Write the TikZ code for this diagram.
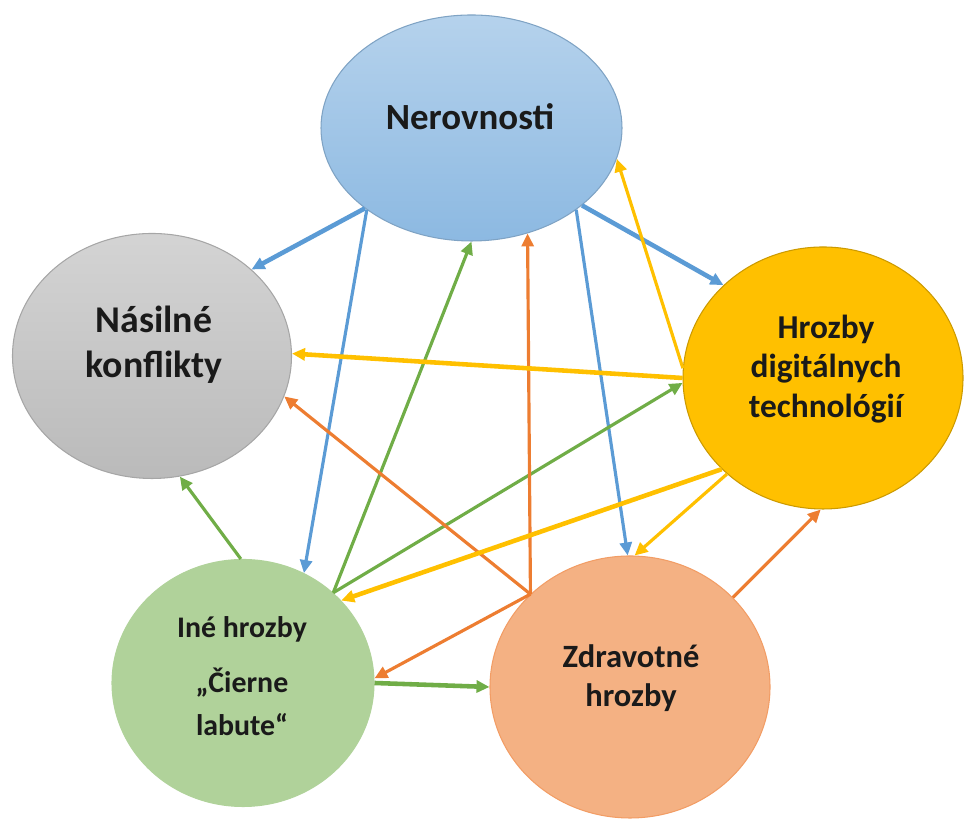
\documentclass[tikz,border=0pt]{standalone}
\usepackage{fontspec}
\setmainfont{Carlito}
\usepackage{tikz}
\usetikzlibrary{arrows.meta, shapes.geometric}
\definecolor{blueA}{HTML}{5B9BD5}
\definecolor{orangeA}{HTML}{ED7D31}
\definecolor{greenA}{HTML}{70AD47}
\definecolor{yellowA}{HTML}{FFC000}
\definecolor{txt}{HTML}{1A1A1A}

\begin{document}
\begin{tikzpicture}[
  blob/.style={ellipse, inner sep=0pt, line width=0.6pt},
  lbl/.style={align=center, text=txt, font=\bfseries},
  arr/.style={-{Triangle[length=2.6mm, width=2.4mm]}, line width=1.8pt},
  arrb/.style={arr, line width=2.6pt},
]
\useasboundingbox (0,0) rectangle (19.28,16.38);
% ---------------- the five threats
\node[blob, minimum width=6.02cm, minimum height=4.52cm, draw=blueA!80!black!70,
      top color=blueA!45!white, bottom color=blueA!70!white] (nerov) at (9.43,13.82) {};
\node[blob, minimum width=5.58cm, minimum height=4.90cm, draw=black!35,
      top color=black!17, bottom color=black!27] (nasil) at (3.04,9.26) {};
\node[blob, minimum width=5.60cm, minimum height=5.24cm, draw=yellowA!80!black,
      fill=yellowA] (digit) at (16.46,8.82) {};
\node[blob, minimum width=5.24cm, minimum height=4.94cm, draw=greenA!55!white,
      fill=greenA!55!white] (ine) at (4.86,2.72) {};
\node[blob, minimum width=5.60cm, minimum height=5.24cm, draw=orangeA!75!white,
      fill=orangeA!60!white] (zdrav) at (12.60,2.64) {};
% ---------------- texts
\node[lbl, font=\fontsize{21}{25.6}\bfseries\selectfont] (nerovT) at (9.40,14.04) {Nerovnosti};
\node[lbl, font=\fontsize{21.5}{25.6}\bfseries\selectfont] (nasilT) at (3.08,9.48) {Násilné\\konflikty};
\node[lbl, font=\fontsize{19}{22.5}\bfseries\selectfont] (digitT) at (16.52,9.00) {Hrozby\\digitálnych\\technológií};
\node[lbl, font=\fontsize{17}{24}\bfseries\selectfont] (ineT) at (4.84,2.86) {Iné hrozby\\[0.26cm]„Čierne\\labute“};
\node[lbl, font=\fontsize{18.5}{22.5}\bfseries\selectfont] (zdravT) at (12.62,2.82) {Zdravotné\\hrozby};
% ---------------- blue: from Nerovnosti
\draw[arrb, blueA] (nerov.217) -- (nasil.41);
\draw[arr, blueA] (nerov.218) -- (ine.61);
\draw[arr, blueA] (nerov.322) -- (zdrav.91);
\draw[arrb, blueA] (nerov.325) -- (digit.137);
% ---------------- green: from Iné hrozby
\draw[arr, greenA] (ine.45) -- (nerov.270);
\draw[arr, greenA] (ine.45) -- (digit.182);
\draw[arr, greenA] (ine.91) -- (nasil.283);
\draw[arrb, greenA] (ine.0) -- (zdrav.180);
% ---------------- orange: from Zdravotné hrozby
\draw[arr, orangeA] (zdrav.137) -- (nerov.298);
\draw[arr, orangeA] (zdrav.137) -- (nasil.343);
\draw[arr, orangeA] (zdrav.137) -- (ine.2);
\draw[arr, orangeA] (zdrav.41) -- (digit.269);
% ---------------- yellow: from Hrozby digitálnych technológií
\draw[arrb, yellowA] (digit.180) -- (nasil.1);
\draw[arr, yellowA] (digit.176) -- (nerov.348);
\draw[arrb, yellowA] (digit.222) -- (ine.40);
\draw[arr, yellowA] (digit.225) -- (zdrav.88);
\end{tikzpicture}
\end{document}
